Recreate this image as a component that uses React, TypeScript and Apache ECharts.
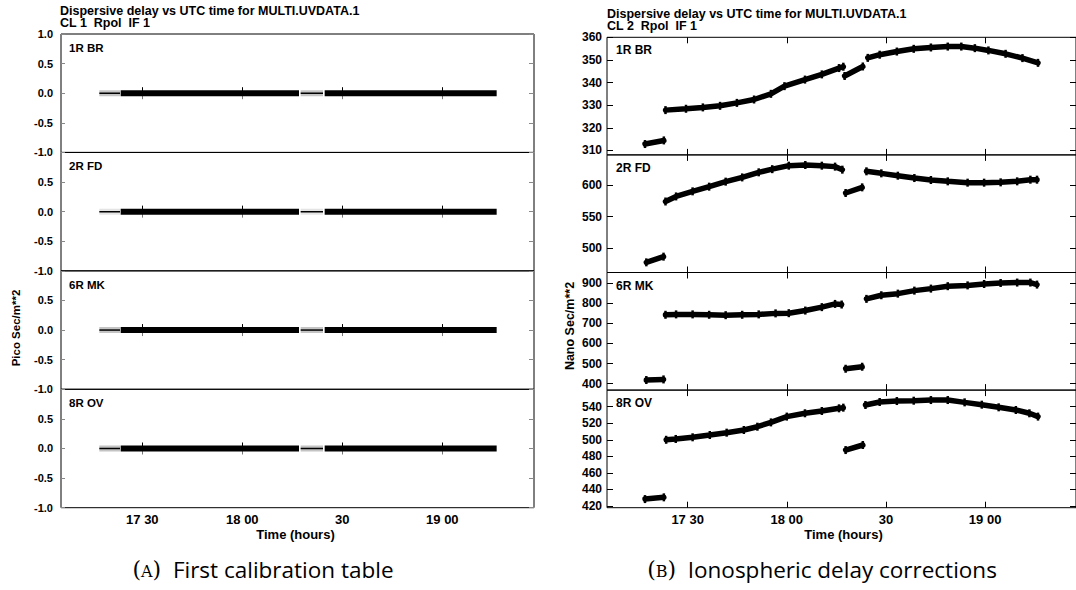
import { useEffect, useRef } from 'react';
import * as echarts from 'echarts';

// ---------- data (time in minutes after 17:00 UTC; null separates segments) ----------
const xTickValues = [30, 60, 90, 120];
const xTickLabels = ['17 30', '18 00', '30', '19 00'];

const antennas = ['1R BR', '2R FD', '6R MK', '8R OV'];

// (A) first calibration table (CL 1): all zero
const clTimes = [17.1, 23.3, null, 23.5, 77.0, null, 77.5, 84.2, null, 84.7, 136.3];
const clBR = [0, 0, null, 0, 0, null, 0, 0, null, 0, 0];
const clFD = [0, 0, null, 0, 0, null, 0, 0, null, 0, 0];
const clMK = [0, 0, null, 0, 0, null, 0, 0, null, 0, 0];
const clOV = [0, 0, null, 0, 0, null, 0, 0, null, 0, 0];
const clThickSegment = [false, true, false, true];
const leftTicks = [-1, -0.5, 0, 0.5, 1];

// (B) ionospheric delay corrections (CL 2), Nano Sec/m**2
const brT = [17.1, 22.8, null, 23.3, 29.5, 34.6, 39.8, 44.9, 50.1, 55.2, 59.3, 65.5, 70.6, 75.8, 77.1, null, 77.5, 83.0, null, 84.5, 88.1, 93.3, 98.4, 103.6, 108.7, 112.8, 116.9, 121.0, 126.2, 131.3, 136.0];
const brV = [312.8, 314.4, null, 327.8, 328.4, 329.0, 329.7, 331.0, 332.5, 335.0, 338.4, 341.3, 343.6, 346.4, 347.0, null, 342.9, 347.1, null, 350.9, 352.3, 353.7, 354.9, 355.5, 355.9, 355.9, 355.2, 354.2, 352.7, 350.8, 348.7];

const fdT = [17.5, 22.7, null, 23.3, 26.5, 31.5, 36.5, 41.5, 46.5, 51.5, 55.6, 60.6, 65.6, 70.6, 74.6, 76.8, null, 77.8, 82.8, null, 84.1, 88.6, 93.6, 98.6, 103.6, 108.7, 114.7, 119.7, 124.7, 129.7, 133.7, 135.7];
const fdV = [478, 487, null, 574, 582, 590, 597.4, 605.3, 612, 620, 625, 630.5, 631.6, 630.5, 629, 624.2, null, 587.4, 596.3, null, 621.6, 618.4, 614.7, 611, 607.9, 605.8, 603.7, 603.7, 604.2, 605.8, 608.4, 608.4];

const mkT = [17.5, 22.7, null, 23.3, 26.5, 31.5, 36.5, 41.5, 46.5, 51.5, 56.6, 60.6, 65.6, 70.6, 74.6, 76.6, null, 77.8, 82.8, null, 84.1, 88.6, 93.6, 98.6, 103.6, 108.7, 114.7, 119.7, 124.7, 129.7, 133.7, 135.7];
const mkV = [418, 421, null, 742, 744, 744, 742, 740, 742, 744, 749, 750, 763, 780, 796, 793, null, 474, 484, null, 821, 839, 847, 862, 872, 884, 888, 895, 900, 902, 902, 892];

const ovT = [17.1, 22.8, null, 23.5, 26.4, 31.5, 36.7, 41.8, 47.0, 51.1, 55.2, 60.0, 65.5, 70.6, 75.8, 77.1, null, 77.8, 83.0, null, 83.8, 88.1, 93.3, 98.4, 103.6, 108.7, 113.8, 119.0, 124.1, 129.3, 133.4, 136.0];
const ovV = [428.4, 430.5, null, 500, 501, 503, 505.8, 508.6, 511.8, 515.8, 521, 528, 532, 534.8, 538, 538.8, null, 487.6, 493.7, null, 542, 545.6, 546.8, 547.2, 548, 548, 545.2, 542.4, 539.2, 536, 532, 528];

const rightTicks = [
  [310, 320, 330, 340, 350, 360],
  [500, 550, 600],
  [400, 500, 600, 700, 800, 900],
  [420, 440, 460, 480, 500, 520, 540],
];
const rightMin = [308, 462, 368, 418];
const rightMax = [360, 647.5, 952, 560];

// ---------- layout ----------
const X_MIN = 5.6;
const X_MAX = 147.5;
const PLOT_W = 473;
const LEFT_X = 61;
const RIGHT_X = 607;
const BOTTOM = 507.7;
const LEFT_TOP = 34;
const RIGHT_TOP = 37.3;
const LEFT_H = (BOTTOM - LEFT_TOP) / 4;
const RIGHT_H = (BOTTOM - RIGHT_TOP) / 4;
const FONT = '"Liberation Sans", Arial, Helvetica, sans-serif';
const SERIF = '"DejaVu Serif", "Liberation Serif", serif';
const CAPTION = '"Open Sans", Lato, sans-serif';

function segments(t: (number | null)[], v: (number | null)[]) {
  const segs: number[][][] = [];
  let cur: number[][] = [];
  t.forEach((x, i) => {
    if (x === null || v[i] === null) {
      if (cur.length) segs.push(cur);
      cur = [];
    } else cur.push([x, v[i] as number]);
  });
  if (cur.length) segs.push(cur);
  return segs;
}

function buildOption() {
  const grid: any[] = [];
  const xAxis: any[] = [];
  const yAxis: any[] = [];
  const series: any[] = [];
  const graphic: any[] = [];

  const leftVals = [clBR, clFD, clMK, clOV];
  const rightData = [
    [brT, brV],
    [fdT, fdV],
    [mkT, mkV],
    [ovT, ovV],
  ];

  const addAxes = (g: number, last: boolean, yMin: number, yMax: number, yTicks: number[], yLabelTicks: number[], left: boolean) => {
    const fs = left ? 11 : 12;
    xAxis.push({
      type: 'value', gridIndex: g, min: X_MIN, max: X_MAX, position: 'bottom',
      axisLine: { show: false }, splitLine: { show: false },
      axisTick: { show: true, inside: true, length: 6, customValues: xTickValues, lineStyle: { color: '#000', width: 1 } },
      axisLabel: {
        show: last, customValues: xTickValues, margin: 5,
        formatter: (v: number) => xTickLabels[xTickValues.indexOf(v)] ?? '',
        color: '#000', fontSize: 13, fontWeight: 'bold', fontFamily: FONT,
      },
    });
    xAxis.push({
      type: 'value', gridIndex: g, min: X_MIN, max: X_MAX, position: 'top',
      axisLine: { show: false }, splitLine: { show: false },
      axisTick: { show: true, inside: true, length: 6, customValues: xTickValues, lineStyle: { color: left ? '#777' : '#000', width: 1 } },
      axisLabel: { show: false },
    });
    yAxis.push({
      type: 'value', gridIndex: g, min: yMin, max: yMax, position: 'left',
      axisLine: { show: false }, splitLine: { show: false },
      axisTick: { show: true, inside: true, length: left ? 4 : 6, customValues: yTicks, lineStyle: { color: left ? '#888' : '#000' } },
      axisLabel: {
        show: true, customValues: yLabelTicks, margin: left ? 8 : 5,
        formatter: (v: number) => (left ? v.toFixed(1) : String(v)),
        color: '#000', fontSize: fs, fontWeight: 'bold', fontFamily: FONT,
      },
    });
    yAxis.push({
      type: 'value', gridIndex: g, min: yMin, max: yMax, position: 'right',
      axisLine: { show: false }, splitLine: { show: false },
      axisTick: { show: true, inside: true, length: left ? 5 : 6, customValues: yTicks, lineStyle: { color: left ? '#888' : '#000' } },
      axisLabel: { show: false },
    });
  };

  // left panels
  for (let i = 0; i < 4; i++) {
    const g = grid.length;
    const top = LEFT_TOP + i * LEFT_H;
    grid.push({ left: LEFT_X, top, width: PLOT_W, height: LEFT_H, show: true, borderColor: '#000', borderWidth: 1, backgroundColor: 'transparent' });
    addAxes(g, i === 3, -1, 1, leftTicks, i === 0 ? leftTicks : leftTicks.slice(0, 4), true);
    const segs = segments(clTimes, leftVals[i]);
    segs.forEach((seg, k) => {
      const thick = clThickSegment[k];
      if (!thick) {
        series.push({
          type: 'line', xAxisIndex: 2 * g, yAxisIndex: 2 * g, data: seg, showSymbol: false, silent: true,
          lineStyle: { color: i === 1 ? '#e4e4e4' : '#c4c4c4', width: 6, cap: 'butt' },
        });
      }
      series.push({
        type: 'line', xAxisIndex: 2 * g, yAxisIndex: 2 * g, data: seg, showSymbol: false, silent: true,
        lineStyle: { color: '#000', width: thick ? 6 : 1.5, cap: 'butt' },
      });
    });
    graphic.push({
      type: 'text', left: LEFT_X + 8, top: top + 8,
      style: { text: antennas[i], font: `bold 11.5px ${FONT}`, fill: '#000' },
    });
  }

  // right panels
  for (let i = 0; i < 4; i++) {
    const g = grid.length;
    const top = RIGHT_TOP + i * RIGHT_H;
    grid.push({ left: RIGHT_X, top, width: PLOT_W, height: RIGHT_H, show: true, borderColor: '#000', borderWidth: 1, backgroundColor: 'transparent' });
    addAxes(g, i === 3, rightMin[i], rightMax[i], rightTicks[i], rightTicks[i], false);
    const [t, v] = rightData[i];
    segments(t as (number | null)[], v as (number | null)[]).forEach((seg) => {
      series.push({
        type: 'line', xAxisIndex: 2 * g, yAxisIndex: 2 * g, data: seg, silent: true,
        showSymbol: true, symbol: 'rect', symbolSize: [2.5, 8],
        itemStyle: { color: '#000' },
        lineStyle: { color: '#000', width: 5.5, cap: 'round' },
      });
    });
    graphic.push({
      type: 'text', left: RIGHT_X + 9, top: top + 7,
      style: { text: antennas[i], font: `bold 12px ${FONT}`, fill: '#000' },
    });
  }

  // titles
  graphic.push(
    { type: 'text', left: 60, top: 4, style: { text: 'Dispersive delay vs UTC time for MULTI.UVDATA.1', font: `bold 12.5px ${FONT}`, fill: '#000' } },
    { type: 'text', left: 60, top: 16, style: { text: 'CL 1  Rpol  IF 1', font: `bold 12.5px ${FONT}`, fill: '#000' } },
    { type: 'text', left: 607, top: 7, style: { text: 'Dispersive delay vs UTC time for MULTI.UVDATA.1', font: `bold 12.5px ${FONT}`, fill: '#000' } },
    { type: 'text', left: 607, top: 19.5, style: { text: 'CL 2  Rpol  IF 1', font: `bold 12.5px ${FONT}`, fill: '#000' } },
    // axis titles
    { type: 'text', x: LEFT_X + PLOT_W / 2 - 2, y: 534, style: { text: 'Time (hours)', font: `bold 13px ${FONT}`, fill: '#000', align: 'center', verticalAlign: 'middle' } },
    { type: 'text', x: RIGHT_X + PLOT_W / 2, y: 534, style: { text: 'Time (hours)', font: `bold 13px ${FONT}`, fill: '#000', align: 'center', verticalAlign: 'middle' } },
    { type: 'text', x: 16, y: 328, rotation: Math.PI / 2, style: { text: 'Pico Sec/m**2', font: `bold 11.5px ${FONT}`, fill: '#000', align: 'center', verticalAlign: 'middle' } },
    { type: 'text', x: 570, y: 326, rotation: Math.PI / 2, style: { text: 'Nano Sec/m**2', font: `bold 12.5px ${FONT}`, fill: '#000', align: 'center', verticalAlign: 'middle' } },
    // captions
    {
      type: 'text', x: 263, y: 569,
      style: {
        text: '{p|(}{sc|A}{p|)}{s|  First calibration table}',
        align: 'center', verticalAlign: 'middle', fill: '#000',
        rich: {
          p: { fontFamily: SERIF, fontSize: 22, fill: '#000' },
          sc: { fontFamily: SERIF, fontSize: 16, fill: '#000', padding: [4, 0, 0, 0] },
          s: { fontFamily: CAPTION, fontSize: 22.5, fill: '#000' },
        },
      },
    },
    {
      type: 'text', x: 822, y: 569,
      style: {
        text: '{p|(}{sc|B}{p|)}{s|  Ionospheric delay corrections}',
        align: 'center', verticalAlign: 'middle', fill: '#000',
        rich: {
          p: { fontFamily: SERIF, fontSize: 22, fill: '#000' },
          sc: { fontFamily: SERIF, fontSize: 16, fill: '#000', padding: [4, 0, 0, 0] },
          s: { fontFamily: CAPTION, fontSize: 22.5, fill: '#000' },
        },
      },
    },
  );

  return { animation: false, backgroundColor: '#fff', grid, xAxis, yAxis, series, graphic };
}

export default function App() {
  const ref = useRef<HTMLDivElement>(null);
  useEffect(() => {
    if (!ref.current) return;
    const chart = echarts.init(ref.current, null, { renderer: 'svg' });
    chart.setOption(buildOption() as any);
    return () => chart.dispose();
  }, []);
  return (
    <div
      ref={ref}
      style={{ position: 'absolute', left: 0, top: 0, width: 1076, height: 590, background: '#fff' }}
    />
  );
}
